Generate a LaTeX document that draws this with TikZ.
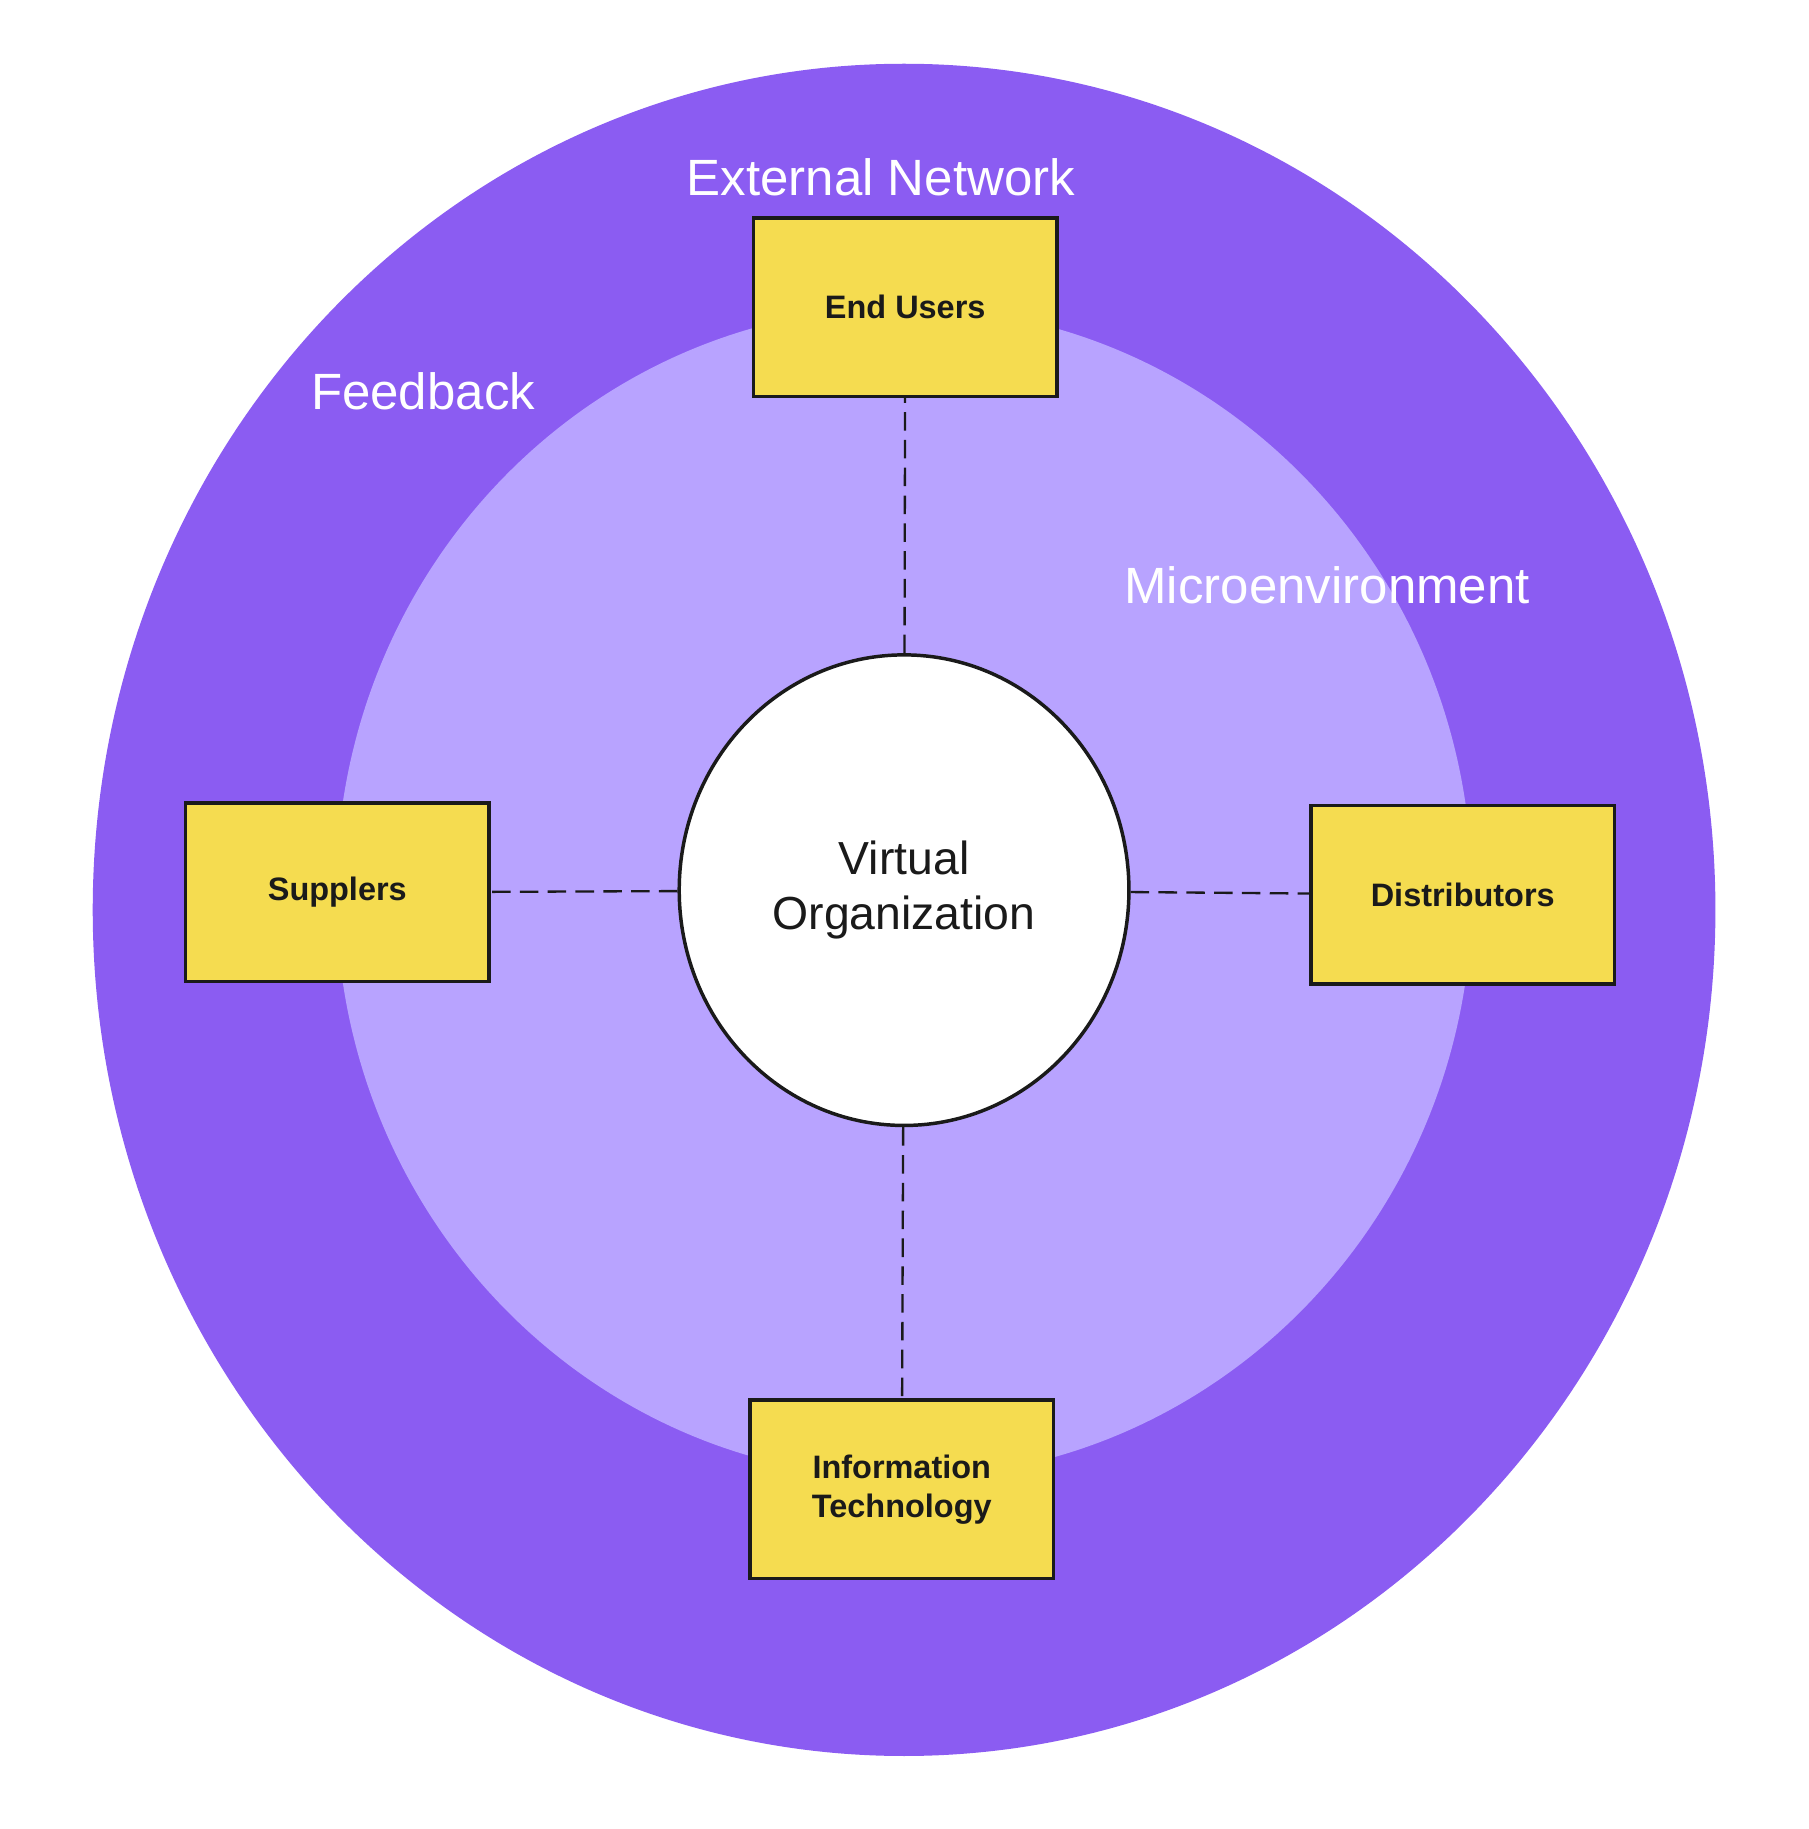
\documentclass[tikz,border=0pt]{standalone}
\usepackage{fontspec}
\setmainfont{Liberation Sans}
\usetikzlibrary{shapes.geometric}
\definecolor{outerc}{HTML}{8B5CF2}
\definecolor{innerc}{HTML}{B8A3FF}
\definecolor{boxc}{HTML}{F5DC50}
\definecolor{ink}{HTML}{1A1A1A}
\begin{document}
\begin{tikzpicture}[x=0.5pt,y=-0.5pt,
  box/.style={draw=ink,line width=1.5pt,fill=boxc,minimum width=131pt,minimum height=77pt,font=\fontsize{14}{17}\selectfont\bfseries,text=ink,align=center},
  lab/.style={text=white,font=\fontsize{22}{26}\selectfont},
  conn/.style={draw=ink,line width=1pt,dash pattern=on 8pt off 4pt}]
\useasboundingbox (0,0) rectangle (1560,1578);
\fill[outerc] (780,785) ellipse [x radius=700, y radius=730];
\fill[innerc] (780,770) ellipse [x radius=490, y radius=505];
\node[ellipse,draw=ink,line width=1.5pt,fill=white,minimum width=194pt,minimum height=203pt,font=\fontsize{20}{24}\selectfont,text=ink,align=center] (vo) at (780,768) {Virtual\\Organization};
\node[box] (eu) at (781,265) {End Users};
\node[box] (su) at (291,770) {Supplers};
\node[box] (di) at (1262,772) {Distributors};
\node[box] (it) at (778,1285) {Information\\Technology};
\draw[conn] (vo) -- (eu);
\draw[conn] (vo) -- (su);
\draw[conn] (vo) -- (di);
\draw[conn] (vo) -- (it);
\node[lab] (en) at (760,153) {External Network};
\node[lab] (fb) at (365,338) {Feedback};
\node[lab] (me) at (1145,505) {Microenvironment};
\end{tikzpicture}
\end{document}
